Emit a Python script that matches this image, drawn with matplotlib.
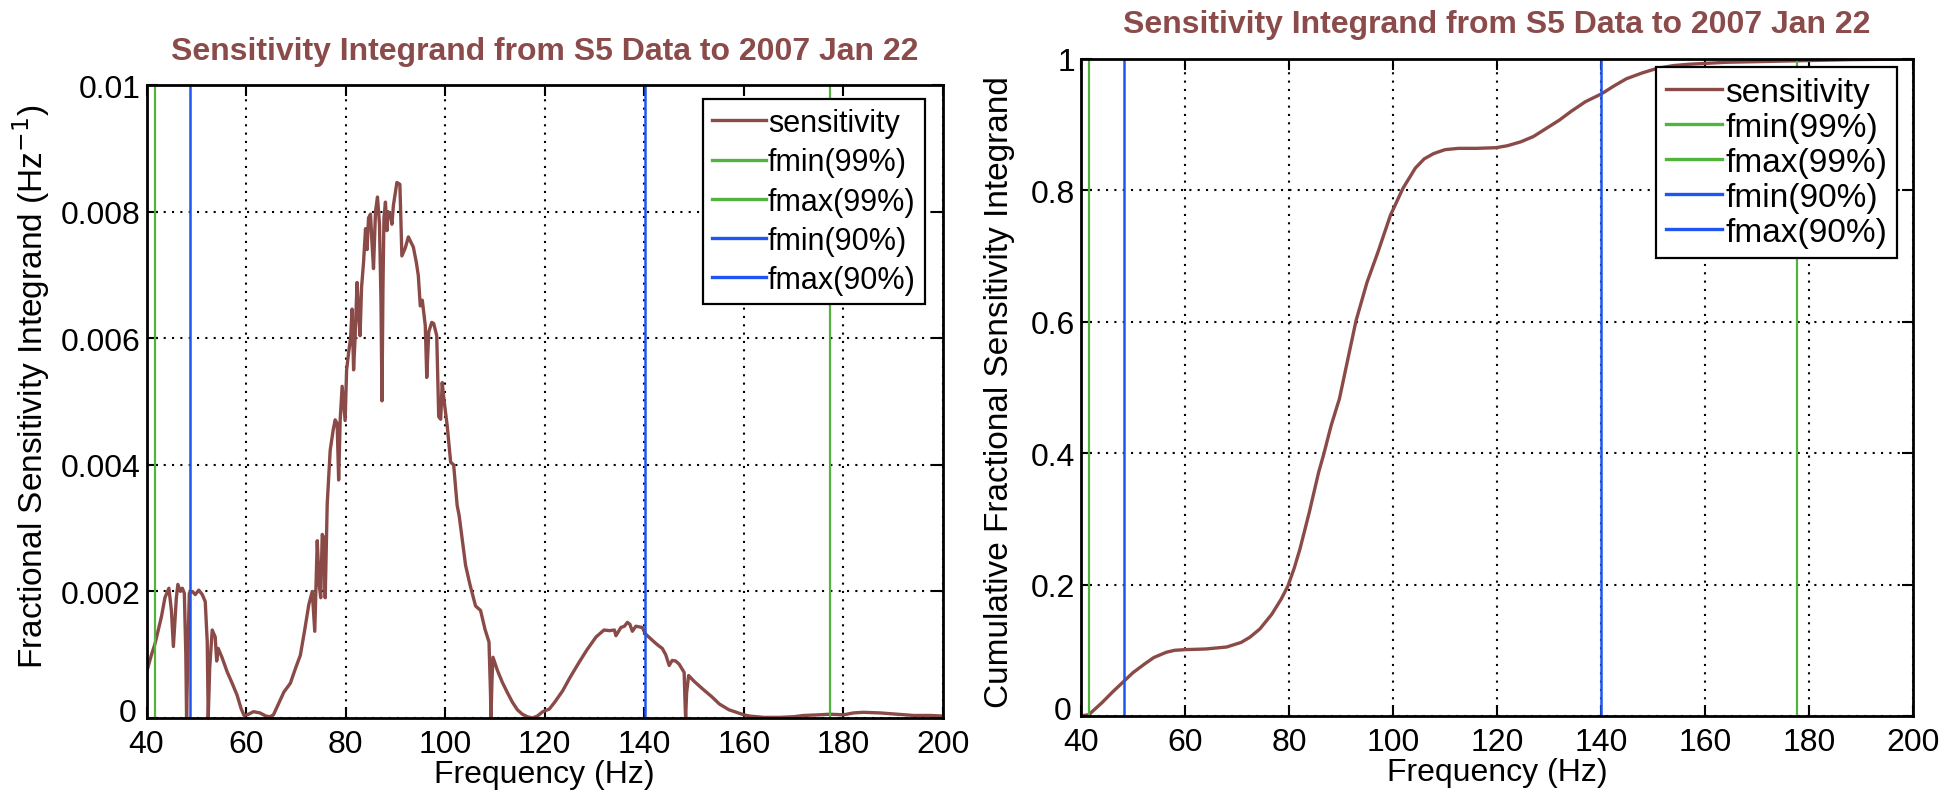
import matplotlib
matplotlib.use("Agg")
import matplotlib.pyplot as plt
from matplotlib import font_manager
from matplotlib.transforms import ScaledTranslation

# ---------------- data ----------------
freq_left = [40.0, 41.0, 41.7, 43.0, 43.7, 44.5, 45.0, 45.4, 46.0, 46.3, 46.8, 47.2, 47.6, 47.9, 48.05,
             48.3, 48.6, 49.2, 49.8, 50.5, 51.2, 51.8, 52.2, 52.4, 52.7, 53.2, 53.8, 54.1, 54.4, 55.2,
             56.2, 57.2, 58.2, 59.0, 59.6, 60.5, 61.5, 62.8, 64.0, 64.8, 65.5, 66.5, 67.6, 68.9, 70.0,
             70.9, 71.8, 72.6, 73.3, 73.8, 74.3, 74.7, 75.0, 75.3, 75.6, 75.9, 76.3, 76.9, 77.5, 77.9,
             78.3, 78.6, 78.9, 79.3, 79.9, 80.2, 80.6, 81.0, 81.3, 81.6, 81.9, 82.3, 82.6, 82.9, 83.2,
             83.6, 84.0, 84.3, 84.6, 85.0, 85.3, 85.6, 86.0, 86.4, 86.8, 87.1, 87.3, 87.5, 87.7, 88.0,
             88.3, 88.5, 89.0, 89.3, 89.6, 90.0, 90.3, 90.9, 91.3, 92.0, 92.6, 93.6, 94.2, 94.6, 95.0,
             95.4, 96.0, 96.3, 96.7, 97.3, 97.7, 98.3, 98.7, 99.1, 99.4, 99.8, 100.4, 101.1, 101.7, 102.4,
             102.8, 103.3, 104.1, 105.0, 106.1, 107.1, 108.0, 108.8, 109.1, 109.2, 109.4, 109.6, 110.5, 111.5, 112.5,
             113.5, 114.5, 115.5, 116.5, 117.5, 118.5, 119.6, 120.9, 122.0, 123.6, 125.0, 126.9, 128.5, 130.3, 131.9,
             133.0, 134.0, 134.3, 135.3, 136.0, 136.6, 137.1, 137.6, 138.3, 139.6, 140.2, 140.9, 142.0, 142.9, 143.6,
             144.3, 145.0, 145.6, 146.3, 147.0, 148.0, 148.2, 148.3, 148.5, 148.9, 150.0, 151.7, 153.5, 155.1, 157.0,
             158.5, 160.0, 161.2, 164.0, 167.2, 170.0, 172.0, 175.0, 177.3, 180.0, 182.0, 184.0, 187.4, 190.8, 194.1,
             197.5, 200.0]
sens_left = [0.00072, 0.0010, 0.00117, 0.0016, 0.0019, 0.00205, 0.0017, 0.00113, 0.0019, 0.00211, 0.0020, 0.00205, 0.00197, 0.0010, 0.0,
             0.0010, 0.00197, 0.0020, 0.00195, 0.00202, 0.00195, 0.00184, 0.0012, 0.0, 0.0008, 0.00139, 0.00128, 0.0009, 0.0011, 0.00095,
             0.00073, 0.00055, 0.00036, 0.00015, 0.00004, 0.00006, 0.00010, 0.00008, 0.00003, 0.00002, 0.00005, 0.00022, 0.00041, 0.00055, 0.00080,
             0.00099, 0.00140, 0.00179, 0.00200, 0.00137, 0.00280, 0.0021, 0.0019, 0.0029, 0.00285, 0.0019, 0.00338, 0.00423, 0.00455, 0.00471,
             0.00465, 0.00376, 0.00470, 0.00524, 0.00470, 0.0055, 0.00577, 0.0060, 0.00646, 0.0055, 0.00600, 0.00688, 0.00640, 0.00604, 0.00680,
             0.0072, 0.00773, 0.0074, 0.0079, 0.00796, 0.0075, 0.0071, 0.0080, 0.00823, 0.0078, 0.0066, 0.00501, 0.0068, 0.0079, 0.00815,
             0.0077, 0.0080, 0.00794, 0.0078, 0.00810, 0.0083, 0.00846, 0.00843, 0.00730, 0.00743, 0.00760, 0.00744, 0.0072, 0.00699, 0.00651,
             0.0066, 0.0062, 0.00538, 0.0061, 0.00625, 0.00623, 0.00604, 0.00476, 0.00472, 0.0053, 0.0050, 0.00462, 0.00404, 0.0040, 0.00336,
             0.0032, 0.0029, 0.00241, 0.0021, 0.00177, 0.00170, 0.0014, 0.00120, 0.0004, 0.0, 0.0006, 0.00096, 0.00075, 0.00056, 0.00040,
             0.00025, 0.00013, 0.00006, 0.00002, 0.0, 0.00003, 0.0001, 0.00014, 0.00025, 0.00043, 0.00063, 0.00088, 0.00108, 0.00128, 0.00139,
             0.00138, 0.00139, 0.00130, 0.00143, 0.00145, 0.00151, 0.00148, 0.00137, 0.00145, 0.00143, 0.00133, 0.00128, 0.0012, 0.00114, 0.00110,
             0.0010, 0.00083, 0.00091, 0.00090, 0.00085, 0.00072, 0.0002, 0.0, 0.0004, 0.00067, 0.00058, 0.00046, 0.00034, 0.00022, 0.00013,
             0.00009, 0.00005, 0.00003, 0.00001, 0.00001, 0.00002, 0.00004, 0.00005, 0.00006, 0.00005, 0.00008, 0.00009, 0.00008, 0.00006, 0.00004,
             0.00004, 0.00003]

freq_right = [40.0, 41.5, 44.0, 46.0, 48.0, 50.0, 52.2, 54.0, 56.4, 58.0, 60.0, 64.0, 68.0, 70.8, 72.5,
              74.4, 76.7, 78.5, 79.8, 81.0, 82.1, 83.9, 85.7, 86.7, 88.1, 89.7, 91.5, 92.9, 95.0, 97.1,
              99.5, 101.9, 104.3, 106.0, 107.8, 110.0, 112.6, 116.0, 119.8, 122.0, 124.6, 127.0, 129.4, 132.0, 134.2,
              137.0, 140.1, 142.5, 144.9, 148.0, 150.9, 154.0, 156.9, 164.0, 176.0, 188.0, 200.0]
cum_right = [0.0, 0.002, 0.02, 0.036, 0.051, 0.066, 0.079, 0.089, 0.097, 0.100, 0.101, 0.102, 0.105, 0.112, 0.12,
             0.1325, 0.155, 0.178, 0.198, 0.225, 0.254, 0.31, 0.371, 0.399, 0.442, 0.483, 0.55, 0.602, 0.66, 0.706,
             0.762, 0.803, 0.834, 0.848, 0.856, 0.862, 0.864, 0.864, 0.865, 0.868, 0.874, 0.882, 0.894, 0.907, 0.920,
             0.935, 0.947, 0.959, 0.970, 0.979, 0.986, 0.990, 0.992, 0.995, 0.997, 0.999, 1.0]

fmin99_left, fmax99_left, fmin90_left, fmax90_left = 41.7, 177.3, 48.8, 140.2
fmin99_right, fmax99_right, fmin90_right, fmax90_right = 41.5, 177.6, 48.2, 140.0

legend_labels = ["sensitivity", "fmin(99%)", "fmax(99%)", "fmin(90%)", "fmax(90%)"]
xticks = [40, 60, 80, 100, 120, 140, 160, 180, 200]
xticklabels = ["40", "60", "80", "100", "120", "140", "160", "180", "200"]
yticks_left = [0, 0.002, 0.004, 0.006, 0.008, 0.01]
yticklabels_left = ["0", "0.002", "0.004", "0.006", "0.008", "0.01"]
yticks_right = [0, 0.2, 0.4, 0.6, 0.8, 1.0]
yticklabels_right = ["0", "0.2", "0.4", "0.6", "0.8", "1"]
title_text = "Sensitivity Integrand from S5 Data to 2007 Jan 22"

# ---------------- style ----------------
names = {f.name for f in font_manager.fontManager.ttflist}
narrow = "Liberation Sans Narrow" if "Liberation Sans Narrow" in names else "Liberation Sans"
wide = "Liberation Sans"

c_curve = "#8a4a47"
c_green = "#52b43c"
c_blue = "#1f55f0"
c_title = "#8b4b4b"

fig = plt.figure(figsize=(19.53, 8.12), dpi=100)
W, H = 1953, 812
ax1 = fig.add_axes([146.5 / W, 1 - 719 / H, (943 - 146.5) / W, (719 - 86) / H])
ax2 = fig.add_axes([1081 / W, 1 - 717 / H, (1913 - 1081) / W, (717 - 60) / H])


def style_axes(ax, yticks, yticklabels, ylabel, title, title_pad, ylab_pos):
    ax.set_xlim(40, 200)
    ax.set_xticks(xticks)
    ax.set_xticklabels(xticklabels, family=narrow, fontsize=23)
    ax.set_yticks(yticks)
    ax.set_yticklabels(yticklabels, family=narrow, fontsize=23)
    ax.set_ylim(yticks[0], yticks[-1])
    ax.tick_params(direction="in", length=8, width=1.5, top=True, right=True, pad=4)
    ax.tick_params(axis="x", pad=8)
    # nudge the corner "0" label so it does not collide with the first x label
    zero = ax.get_yticklabels()[0]
    zero.set_transform(zero.get_transform() + ScaledTranslation(-3 / 72, 6 / 72, fig.dpi_scale_trans))
    for s in ax.spines.values():
        s.set_linewidth(2.0)
        s.set_color("black")
    ax.grid(True, color="black", linestyle=(0, (1, 3)), linewidth=1.5)
    ax.set_axisbelow(True)
    ax.set_xlabel("Frequency (Hz)", family=narrow, fontsize=23, labelpad=0)
    ax.set_ylabel(ylabel, family=wide, fontsize=24)
    ax.yaxis.set_label_coords(*ylab_pos)
    ax.set_title(title, family=narrow, fontsize=23, fontweight="bold", color=c_title, pad=title_pad)


# left panel
ax1.plot(freq_left, sens_left, color=c_curve, lw=2.4, label=legend_labels[0])
ax1.axvline(fmin99_left, color=c_green, lw=1.6, label=legend_labels[1])
ax1.axvline(fmax99_left, color=c_green, lw=1.6, label=legend_labels[2])
ax1.axvline(fmin90_left, color=c_blue, lw=1.8, label=legend_labels[3])
ax1.axvline(fmax90_left, color=c_blue, lw=1.8, label=legend_labels[4])
style_axes(ax1, yticks_left, yticklabels_left,
           r"Fractional Sensitivity Integrand (Hz$^{-1}$)", title_text, 19, (-0.119, 0.525))

# right panel
ax2.plot(freq_right, cum_right, color=c_curve, lw=2.4, label=legend_labels[0])
ax2.axvline(fmin99_right, color=c_green, lw=1.6, label=legend_labels[1])
ax2.axvline(fmax99_right, color=c_green, lw=1.6, label=legend_labels[2])
ax2.axvline(fmin90_right, color=c_blue, lw=1.8, label=legend_labels[3])
ax2.axvline(fmax90_right, color=c_blue, lw=1.8, label=legend_labels[4])
style_axes(ax2, yticks_right, yticklabels_right,
           "Cumulative Fractional Sensitivity Integrand", title_text, 19.5, (-0.079, 0.494))


def make_legend(ax, anchor, size, spacing, hlen):
    leg = ax.legend(loc="upper right", bbox_to_anchor=anchor, prop={"family": narrow, "size": size},
                    frameon=True, fancybox=False, framealpha=1, edgecolor="black",
                    borderpad=0.3, labelspacing=spacing, handlelength=hlen, handletextpad=0.08,
                    borderaxespad=0)
    leg.get_frame().set_linewidth(1.6)
    for h in leg.get_lines():
        h.set_linewidth(2.4)
    return leg


make_legend(ax1, ((925 - 146.5) / (943 - 146.5), 1 - (100 - 86) / (719 - 86)), 22, 0.30, 1.75)
make_legend(ax2, ((1897 - 1081) / (1913 - 1081), 1 - (68 - 60) / (717 - 60)), 24, 0.12, 1.7)

fig.savefig("out.png", dpi=100, facecolor="white")
